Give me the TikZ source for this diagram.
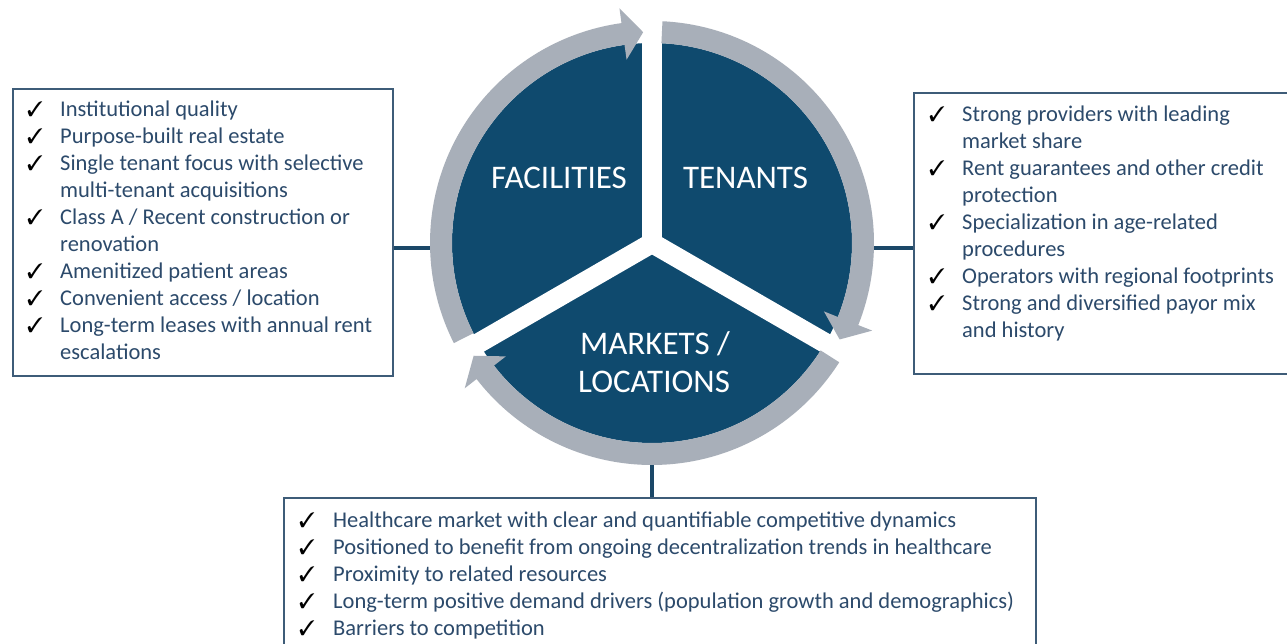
\documentclass[tikz,border=0pt]{standalone}
\usepackage{fontspec}
\setmainfont{Carlito}
\usepackage{pifont}
\usetikzlibrary{calc}
\definecolor{diskblue}{HTML}{0F4A6E}
\definecolor{ringgray}{HTML}{A8AFB9}
\definecolor{txtblue}{HTML}{2C4A6B}
\definecolor{boxline}{HTML}{3E5C78}
\definecolor{linkblue}{HTML}{1B4868}
\newcommand\ringarrow[2]{%
  \pgfmathsetmacro\hb{#2+5.5}%
  \fill[ringfill] ($(C)+(#1:222)$) arc[start angle=#1, end angle=\hb, radius=222]
    -- ($(C)+(\hb:237)$) -- ($(C)+(#2:211)$) -- ($(C)+(\hb:185)$) -- ($(C)+(\hb:200)$)
    arc[start angle=\hb, end angle=#1, radius=200] -- cycle;}
\begin{document}
\begin{tikzpicture}[x=1pt,y=1pt,
  infobox/.style={draw=boxline, line width=1.8pt, fill=white, anchor=north west, inner sep=0},
  item/.style={anchor=base west, inner sep=0, text=txtblue, font=\fontsize{22.5}{27}\selectfont},
  tick/.style={anchor=base west, inner sep=0, text=black, font=\fontsize{21}{21}\selectfont},
  link/.style={draw=linkblue, line width=3.5pt},
  segtext/.style={anchor=base, inner sep=0, text=white, font=\fontsize{33}{39}\selectfont},
  ringfill/.style={fill=ringgray}
]
\useasboundingbox (0,0) rectangle (1287,643);
\clip (0,0) rectangle (1287,643);
\fill[white] (0,0) rectangle (1287,643);
\coordinate (C) at (652,400);
\node[circle, minimum size=444pt, inner sep=0] (wheel) at (C) {};
% boxes
\node[infobox, minimum width=380pt, minimum height=287pt] (lbox) at (12,555) {};
\node[infobox, minimum width=392pt, minimum height=281pt] (rbox) at (913,551) {};
\node[infobox, minimum width=752pt, minimum height=170pt] (bbox) at (283,146) {};
% connectors
\coordinate (lj) at (0,395);
\draw[link] (lbox.east |- lj) -- (wheel.west |- lj);
\draw[link] (wheel.east |- lj) -- (rbox.west |- lj);
\draw[link] (wheel.south) -- (wheel.south |- bbox.north);
% wheel
\fill[diskblue] (C) circle[radius=200];
\foreach \a in {90,-30,210} \draw[white, line width=20pt] (C) -- ++(\a:228);
\ringarrow{206.8}{92.4}
\ringarrow{87.3}{-27.2}
\ringarrow{-32.5}{-147.7}
\node[segtext] (fac) at (559,454.7) {FACILITIES};
\node[segtext] (ten) at (745.5,454.7) {TENANTS};
\node[segtext] (mkt) at (655,288) {MARKETS /};
\node[segtext] (loc) at (654,250) {LOCATIONS};
% left box text
\node[tick] (lt1) at (27,526.5) {\ding{51}};
\node[item] (li1) at (60,526.5) {Institutional quality};
\node[tick] (lt2) at (27,499.5) {\ding{51}};
\node[item] (li2) at (60,499.5) {Purpose-built real estate};
\node[tick] (lt3) at (27,472.5) {\ding{51}};
\node[item] (li3) at (60,472.5) {Single tenant focus with selective};
\node[item] (li4) at (60,445.5) {multi-tenant acquisitions};
\node[tick] (lt5) at (27,418.5) {\ding{51}};
\node[item] (li5) at (60,418.5) {Class A / Recent construction or};
\node[item] (li6) at (60,391.5) {renovation};
\node[tick] (lt7) at (27,364.5) {\ding{51}};
\node[item] (li7) at (60,364.5) {Amenitized patient areas};
\node[tick] (lt8) at (27,337.5) {\ding{51}};
\node[item] (li8) at (60,337.5) {Convenient access / location};
\node[tick] (lt9) at (27,310.5) {\ding{51}};
\node[item] (li9) at (60,310.5) {Long-term leases with annual rent};
\node[item] (li10) at (60,283.5) {escalations};
% right box text
\node[tick] (rt1) at (929,521.5) {\ding{51}};
\node[item] (ri1) at (962,521.5) {Strong providers with leading};
\node[item] (ri2) at (962,494.5) {market share};
\node[tick] (rt3) at (929,467.5) {\ding{51}};
\node[item] (ri3) at (962,467.5) {Rent guarantees and other credit};
\node[item] (ri4) at (962,440.5) {protection};
\node[tick] (rt5) at (929,413.5) {\ding{51}};
\node[item] (ri5) at (962,413.5) {Specialization in age-related};
\node[item] (ri6) at (962,386.5) {procedures};
\node[tick] (rt7) at (929,359.5) {\ding{51}};
\node[item] (ri7) at (962,359.5) {Operators with regional footprints};
\node[tick] (rt8) at (929,332.5) {\ding{51}};
\node[item] (ri8) at (962,332.5) {Strong and diversified payor mix};
\node[item] (ri9) at (962,305.5) {and history};
% bottom box text
\node[tick] (bt1) at (299,115.5) {\ding{51}};
\node[item] (bi1) at (333,115.5) {Healthcare market with clear and quantifiable competitive dynamics};
\node[tick] (bt2) at (299,88.5) {\ding{51}};
\node[item] (bi2) at (333,88.5) {Positioned to benefit from ongoing decentralization trends in healthcare};
\node[tick] (bt3) at (299,61.5) {\ding{51}};
\node[item] (bi3) at (333,61.5) {Proximity to related resources};
\node[tick] (bt4) at (299,34.5) {\ding{51}};
\node[item] (bi4) at (333,34.5) {Long-term positive demand drivers (population growth and demographics)};
\node[tick] (bt5) at (299,7.5) {\ding{51}};
\node[item] (bi5) at (333,7.5) {Barriers to competition};
\end{tikzpicture}
\end{document}
